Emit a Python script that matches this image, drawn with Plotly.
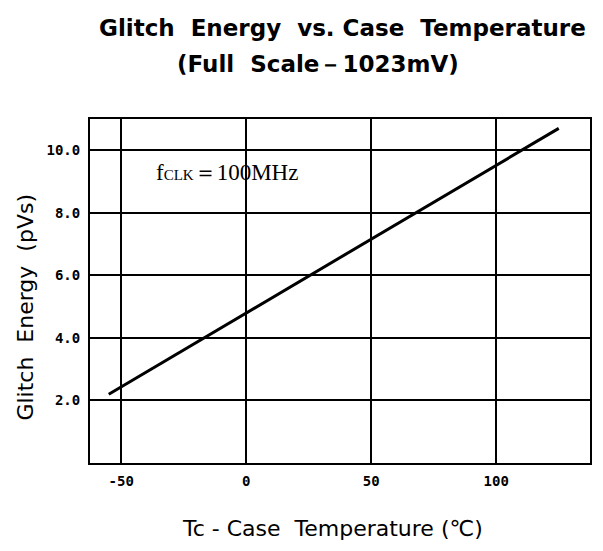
import plotly.graph_objects as go

# Data
temps = [-55, 125]
glitch = [2.2, 10.7]
x_ticks = [-50, 0, 50, 100]
x_tick_labels = ["-50", "0", "50", "100"]
y_ticks = [2, 4, 6, 8, 10]
y_tick_labels = ["2.0", "4.0", "6.0", "8.0", "10.0"]

fig = go.Figure()
fig.add_trace(go.Scatter(x=temps, y=glitch, mode="lines",
                         line=dict(color="black", width=3), showlegend=False))

tickfont = dict(family="DejaVu Sans Mono", size=14, color="black", weight="bold")
fig.update_layout(
    width=595, height=543,
    margin=dict(l=82, r=13, t=111, b=88),
    paper_bgcolor="white", plot_bgcolor="white",
    font=dict(family="DejaVu Sans", color="black"),
    xaxis=dict(range=[-62.5, 137.5], tickvals=x_ticks, ticktext=x_tick_labels,
               showgrid=True, gridcolor="black", gridwidth=1.5,
               showline=True, linecolor="black", linewidth=2, mirror=True,
               zeroline=False, ticks="", ticklen=0, ticklabelstandoff=4,
               tickfont=tickfont),
    yaxis=dict(range=[0, 11], tickvals=y_ticks, ticktext=y_tick_labels,
               showgrid=True, gridcolor="black", gridwidth=1.5,
               showline=True, linecolor="black", linewidth=2, mirror=True,
               zeroline=False, ticks="", ticklen=0, ticklabelstandoff=5,
               tickfont=tickfont),
)

annotations = [
    dict(text="<b>Glitch  Energy  vs. Case  Temperature</b>", x=0.014, y=1.265,
         xanchor="left", yanchor="middle",
         font=dict(size=23, family="DejaVu Sans")),
    dict(text="<b>(Full  Scale－1023mV)</b>", x=0.17, y=1.16,
         xanchor="left", yanchor="middle",
         font=dict(size=23, family="DejaVu Sans")),
    dict(text="Tc - Case  Temperature (℃)", x=0.18, y=-0.19,
         xanchor="left", yanchor="middle",
         font=dict(size=22, family="DejaVu Sans")),
    dict(text="Glitch  Energy  (pVs)", x=-0.128, y=0.116, textangle=-90,
         xanchor="center", yanchor="bottom",
         font=dict(size=22, family="DejaVu Sans")),
]
for a in annotations:
    fig.add_annotation(xref="paper", yref="paper", showarrow=False, **a)

fig.add_annotation(xref="x", yref="y", x=-36.8, y=9.28, showarrow=False,
                   xanchor="left", yanchor="middle",
                   text="f<span style='font-size:15px'>CLK</span>＝100MHz",
                   font=dict(size=23, family="Liberation Serif", color="black"))

fig.write_html("out.html")
